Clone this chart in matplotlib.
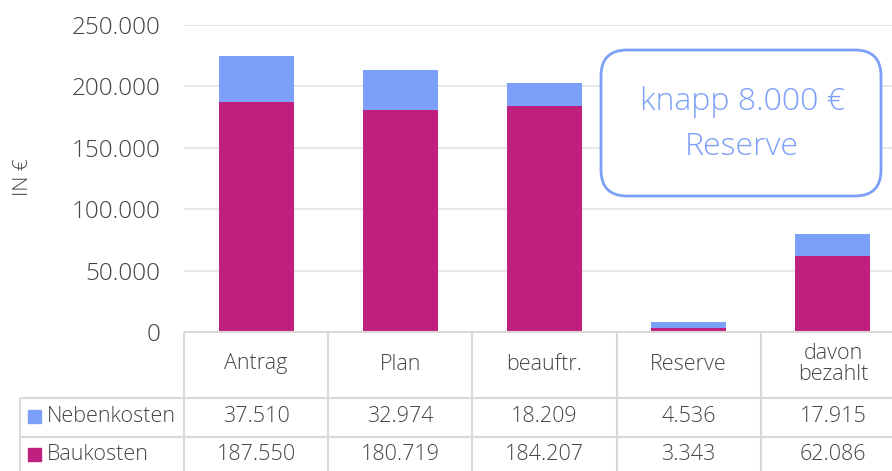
import matplotlib
matplotlib.use("Agg")
import matplotlib.pyplot as plt
from matplotlib.patches import FancyBboxPatch, Rectangle
import numpy as np

categories = ["Antrag", "Plan", "beauftr.", "Reserve", "davon\nbezahlt"]
baukosten = [187550, 180719, 184207, 3343, 62086]
nebenkosten = [37510, 32974, 18209, 4536, 17915]
series_names = ["Nebenkosten", "Baukosten"]
yticks = [0, 50000, 100000, 150000, 200000, 250000]

C_BAU = "#BF1F7E"
C_NEB = "#7C9FF7"
TXT = "#454545"
GRID = "#E4E4E4"
TGRID = "#D9D9D9"
FONT = "Open Sans"
WT = "light"

W, H = 892, 471
fig = plt.figure(figsize=(W / 100, H / 100), dpi=100)

def fx(px):
    return px / W

def fy(py):
    return 1 - py / H

# main plot axes: x from 184 to 905 px, y from 332 (0) to 25 (250000)
left, right, top, bottom = 184, 905, 25, 332
ax = fig.add_axes([fx(left), fy(bottom), (right - left) / W, (bottom - top) / H])
x = np.arange(len(categories))
ax.bar(x, baukosten, width=0.52, color=C_BAU, zorder=3)
ax.bar(x, nebenkosten, width=0.52, bottom=baukosten, color=C_NEB, zorder=3)
ax.set_xlim(-0.5, len(categories) - 0.5)
ax.set_ylim(0, 250000)
ax.set_yticks(yticks)
ax.set_yticklabels([f"{v:,}".replace(",", ".") for v in yticks])
ax.tick_params(axis="y", length=0, pad=17, labelsize=17.5, labelcolor=TXT)
ax.tick_params(axis="x", length=0, labelbottom=False)
for lab in ax.get_yticklabels():
    lab.set_family(FONT)
    lab.set_fontweight(WT)
ax.grid(axis="y", color=GRID, lw=1.2, zorder=0)
for s in ax.spines.values():
    s.set_visible(False)
ax.set_ylabel("IN €", fontsize=15, color=TXT, family=FONT, fontweight=WT, labelpad=0)
ax.yaxis.set_label_coords(-(184 - 33) / (right - left), (332 - 177) / (bottom - top))

# overlay in pixel coordinates: annotation box and data table
ov = fig.add_axes([0, 0, 1, 1], facecolor="none")
ov.set_xlim(0, W)
ov.set_ylim(H, 0)
ov.axis("off")

box = FancyBboxPatch((601, 50), 280, 146,
                     boxstyle="round,pad=0,rounding_size=26",
                     facecolor="white", edgecolor=C_NEB, lw=2, zorder=5)
ov.add_patch(box)
ov.text(742, 102, "knapp 8.000 €", ha="center", va="center",
        fontsize=23, color=C_NEB, family=FONT, fontweight=WT, zorder=6)
ov.text(742, 147, "Reserve", ha="center", va="center",
        fontsize=23, color=C_NEB, family=FONT, fontweight=WT, zorder=6)

col_w = (right - left) / len(categories)
col_edges = [left + i * col_w for i in range(len(categories) + 1)]
row_lines = [332, 398, 437, 476]
lc = dict(color=TGRID, lw=1.5, solid_capstyle="butt")
ov.plot([left, right], [332, 332], **lc)
for yy in row_lines[1:]:
    ov.plot([20, right], [yy, yy], **lc)
ov.plot([20, 20], [398, 476], **lc)
for xe in col_edges:
    ov.plot([xe, xe], [332, 476], **lc)

fs = 15.5
for i, cat in enumerate(categories):
    cx = left + (i + 0.5) * col_w
    ov.text(cx, 364, cat, ha="center", va="center", fontsize=fs, color=TXT,
            family=FONT, fontweight=WT, linespacing=1.05)
    ov.text(cx, 417, f"{nebenkosten[i]:,}".replace(",", "."), ha="center",
            va="center", fontsize=fs, color=TXT, family=FONT, fontweight=WT)
    ov.text(cx, 455, f"{baukosten[i]:,}".replace(",", "."), ha="center",
            va="center", fontsize=fs, color=TXT, family=FONT, fontweight=WT)

for name, yy, col in [(series_names[0], 417, C_NEB), (series_names[1], 455, C_BAU)]:
    ov.add_patch(Rectangle((28, yy - 7), 13, 13, color=col))
    ov.text(47, yy, name, ha="left", va="center", fontsize=fs, color=TXT,
            family=FONT, fontweight=WT)

fig.savefig("out.png", dpi=100)
